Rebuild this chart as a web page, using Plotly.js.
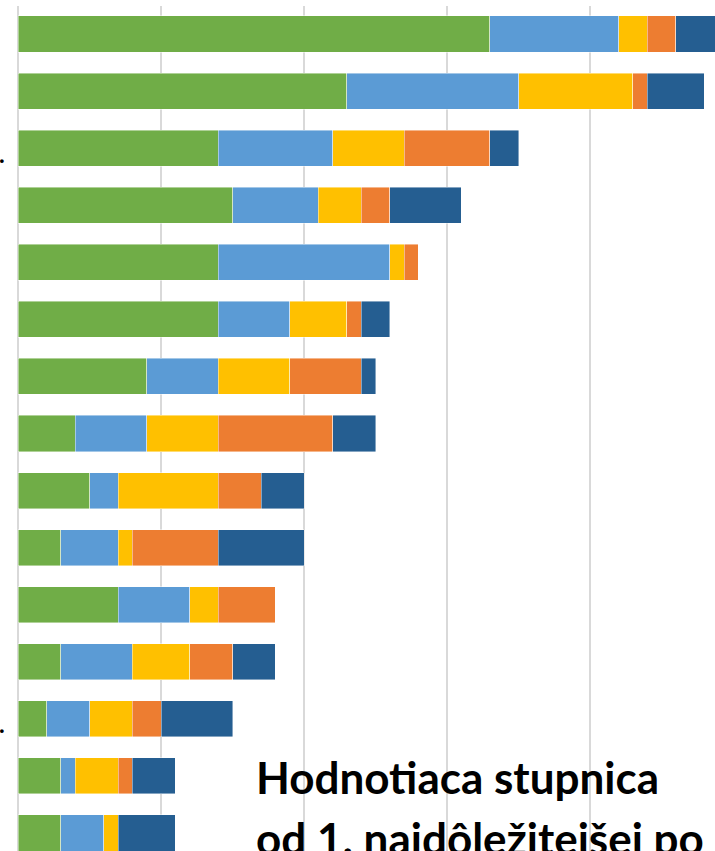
<!DOCTYPE html>
<html>
<head>
<meta charset="utf-8">
<script src="https://cdn.plot.ly/plotly-3.0.1.min.js"></script>
<style>html,body{margin:0;padding:0;background:#fff;overflow:hidden}#chart{width:715px;height:851px}</style>
</head>
<body>
<div id="chart"></div>
<script>
// Categories (row labels are cut off in the reference; only trailing dots visible)
const categories = ['P1','P2','P3','P4','P5','P6','P7','P8','P9','P10','P11','P12','P13','P14','P15'];
const seriesNames = ['1.', '2.', '3.', '4.', '5.'];
// Counts per rank
const rank1 = [33,23,14,15,14,14,9,4,5,3,7,3,2,3,3];
const rank2 = [9,12,8,6,12,5,5,5,2,4,5,5,3,1,3];
const rank3 = [2,8,5,3,1,4,5,5,7,1,2,4,3,3,1];
const rank4 = [2,1,6,2,1,1,5,8,3,6,4,3,2,1,0];
const rank5 = [3,4,2,5,0,2,1,3,3,6,0,3,5,3,4];
const dotRows = ['P3','P13'];
const titleLine1 = 'Hodnotiaca stupnica';
const titleLine2 = 'od 1. najdôležitejšej po 5. najmenej dôležitú';

const colors = ['#70AD47','#5B9BD5','#FFC000','#ED7D31','#255E91'];
const allSeries = [rank1, rank2, rank3, rank4, rank5];

const traces = allSeries.map((vals, i) => ({
  type: 'bar',
  orientation: 'h',
  name: seriesNames[i],
  y: categories,
  x: vals,
  marker: {color: colors[i], line: {color: 'rgba(255,255,255,0.55)', width: 0.8}},
  hoverinfo: 'x+y+name'
}));

const annotations = dotRows.map(r => ({
  xref: 'paper', yref: 'y',
  x: -16/697, y: r,
  xanchor: 'center', yanchor: 'middle',
  yshift: -5,
  text: '<b>.</b>', showarrow: false,
  font: {family: 'Lato, sans-serif', size: 24, color: '#000'}
}));
annotations.push({
  xref: 'paper', yref: 'paper',
  x: 236/697, y: 1 - (749-6)/845,
  xanchor: 'left', yanchor: 'top',
  text: '<b>' + titleLine1 + '</b>', showarrow: false,
  font: {family: 'Lato, sans-serif', size: 44, color: '#000', weight: 800}
});
annotations.push({
  xref: 'paper', yref: 'paper',
  x: 236/697, y: 1 - (810-6)/845,
  xanchor: 'left', yanchor: 'top',
  text: '<b>' + titleLine2 + '</b>', showarrow: false,
  font: {family: 'Lato, sans-serif', size: 44, color: '#000', weight: 800}
});

const layout = {
  width: 715, height: 851,
  margin: {l: 18, r: 0, t: 6, b: 0, pad: 0},
  paper_bgcolor: '#fff', plot_bgcolor: '#fff',
  barmode: 'stack',
  bargap: 0.368,
  showlegend: false,
  xaxis: {
    range: [0, 697/14.3],
    dtick: 10, tick0: 0,
    showgrid: true, gridcolor: '#D9D9D9', gridwidth: 1.5,
    zeroline: true, zerolinecolor: '#D9D9D9', zerolinewidth: 1.5,
    showticklabels: false, ticks: '', showline: false, fixedrange: true
  },
  yaxis: {
    type: 'category',
    categoryarray: categories,
    range: [14.316, -0.491],
    showgrid: false, zeroline: false, showline: false,
    showticklabels: false, ticks: '', fixedrange: true
  },
  annotations: annotations
};

Plotly.newPlot('chart', traces, layout, {displayModeBar: false, staticPlot: true});
</script>
</body>
</html>
